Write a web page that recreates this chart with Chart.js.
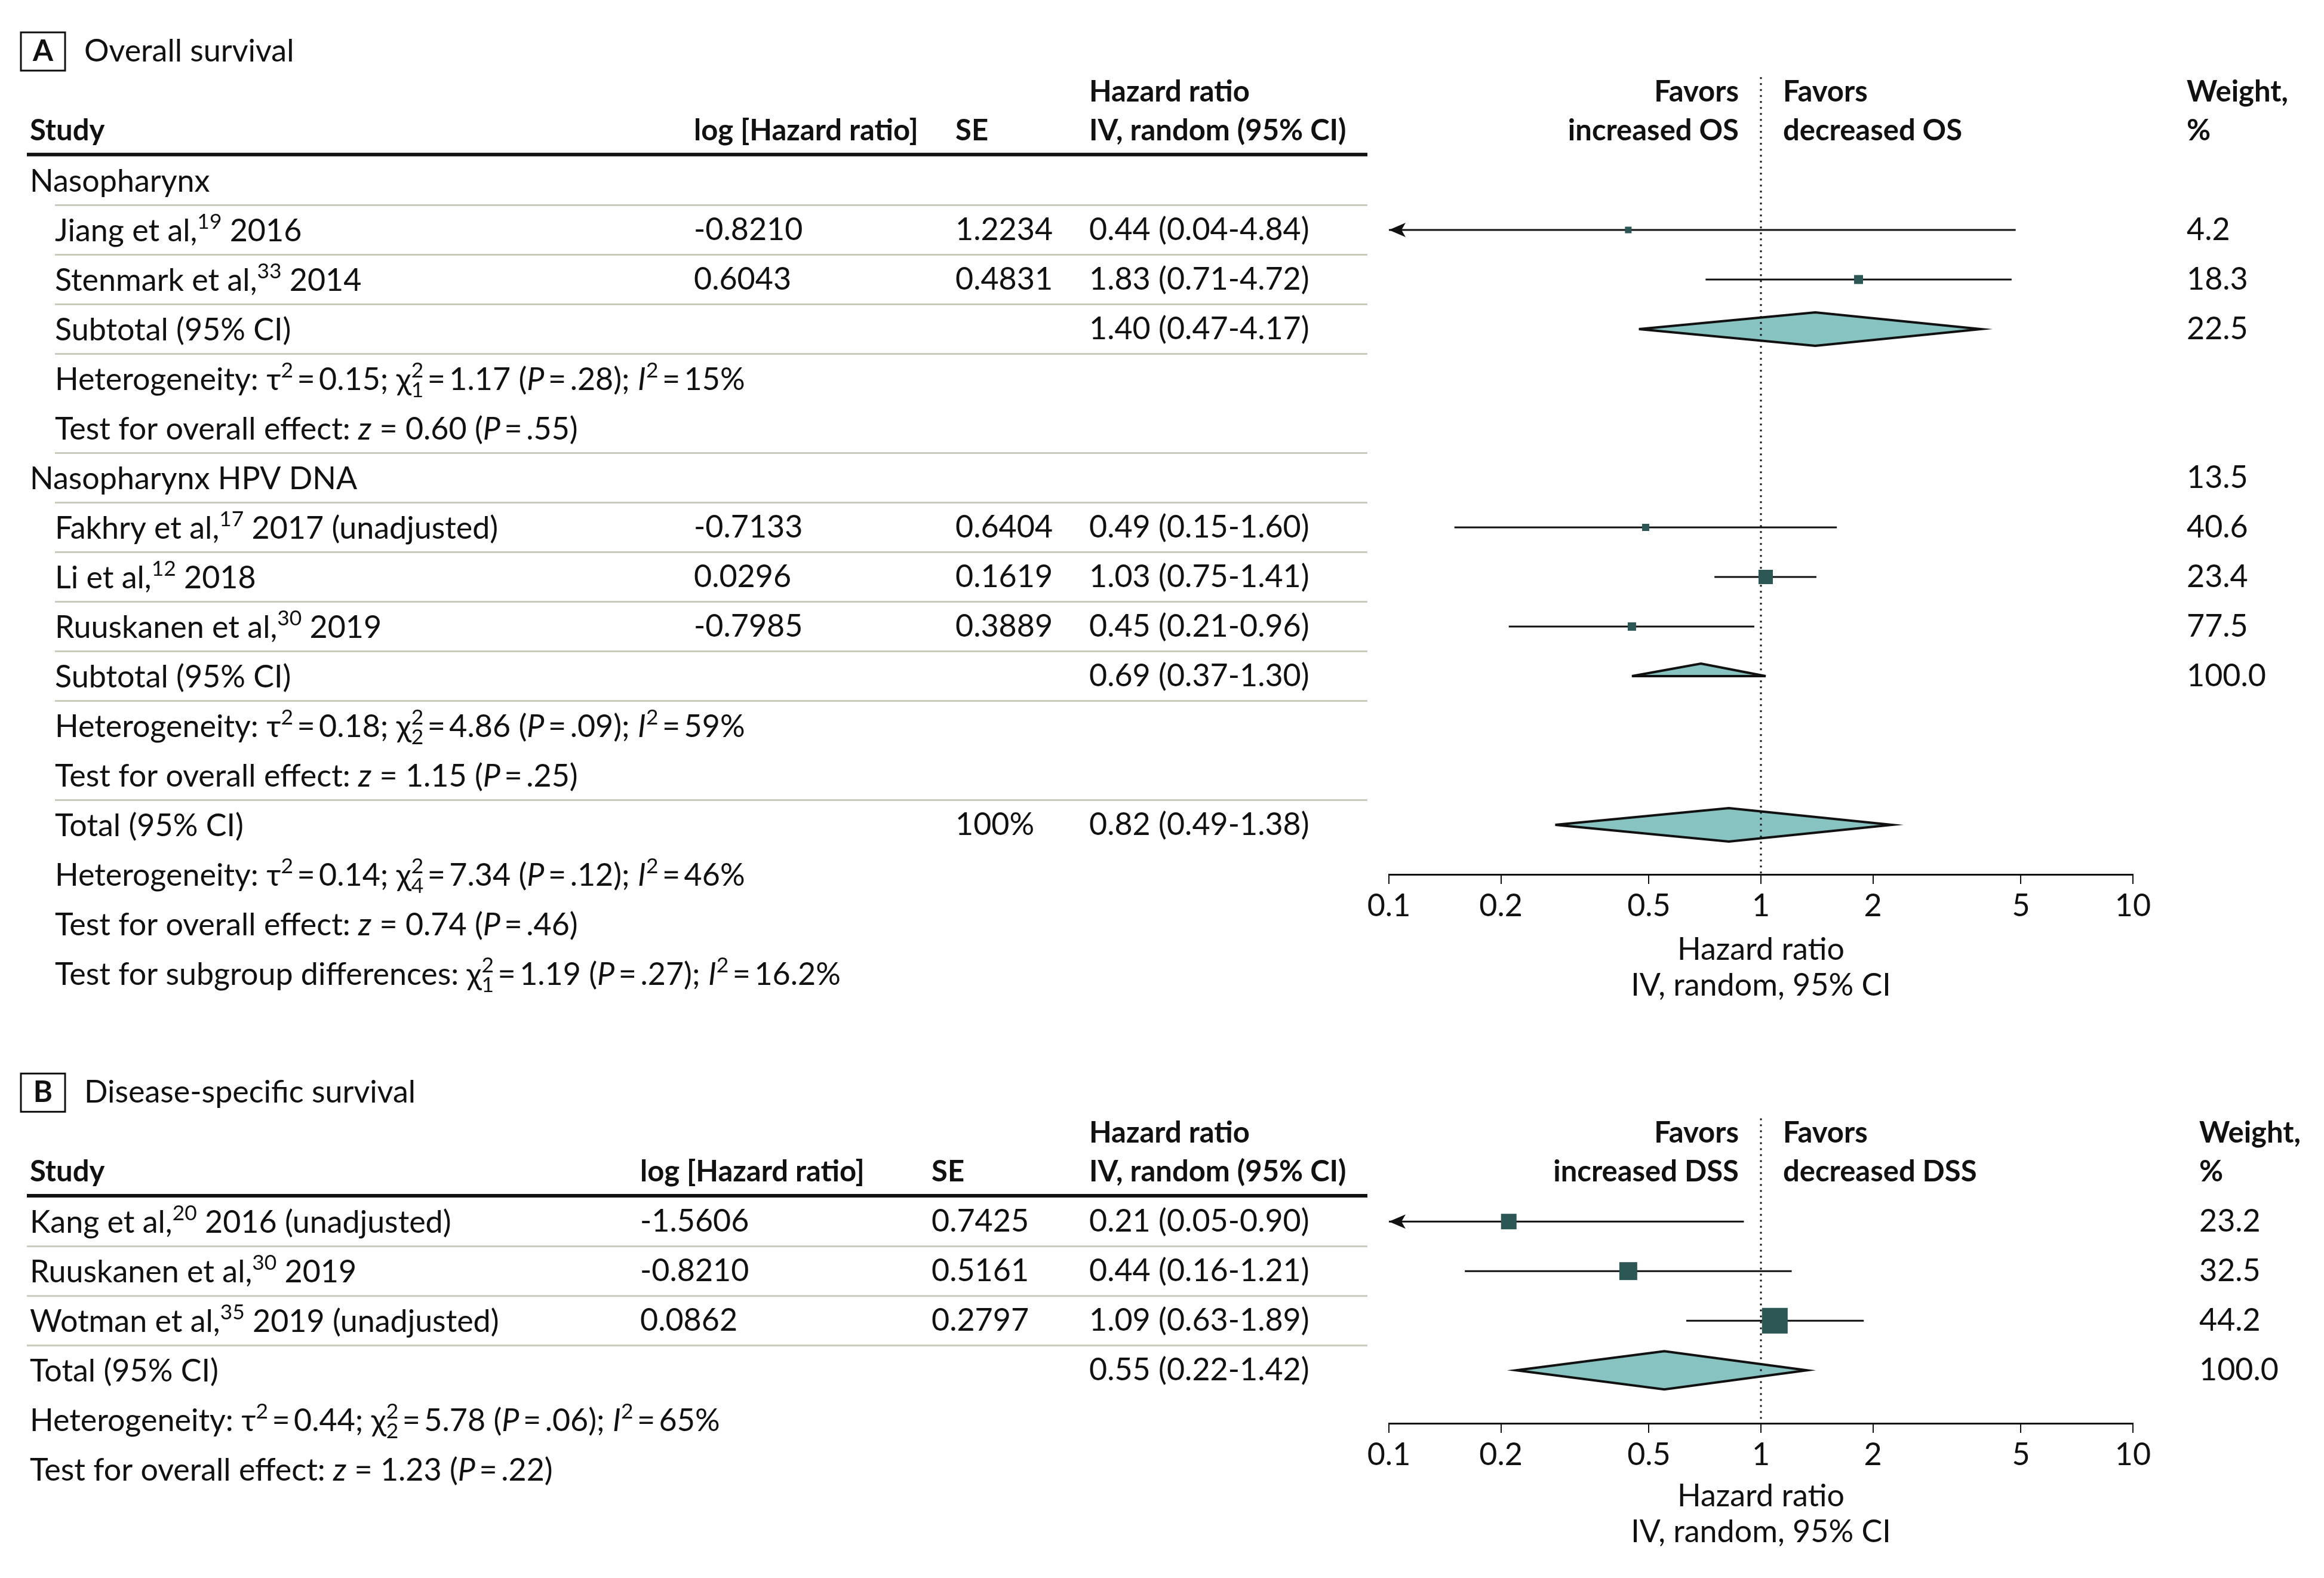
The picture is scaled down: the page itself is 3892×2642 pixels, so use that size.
<!DOCTYPE html>
<html>
<head>
<meta charset="utf-8">
<script src="https://cdn.jsdelivr.net/npm/chart.js@4.4.1/dist/chart.umd.min.js"></script>
<style>
  html, body { margin: 0; padding: 0; background: #fff; }
  canvas { display: block; }
</style>
</head>
<body>
<canvas id="panelA" width="3892" height="1740"></canvas>
<canvas id="panelB" width="3892" height="902"></canvas>
<script>
// tight equals sign used in the statistics lines
const EQ = '\u2009=\u2009';

// ---------- axis ----------
const tickVals = [0.1, 0.2, 0.5, 1, 2, 5, 10];
const tickLabels = ['0.1', '0.2', '0.5', '1', '2', '5', '10'];
const axisTitle = ['Hazard ratio', 'IV, random, 95% CI'];

// ---------- panel A: overall survival ----------
const studyA = [
  'Nasopharynx',
  'Jiang et al,^{19} 2016',
  'Stenmark et al,^{33} 2014',
  'Subtotal (95% CI)',
  `Heterogeneity: τ^{2}${EQ}0.15; χ^{2}_{1}${EQ}1.17 (*P*${EQ}.28); *I*^{2}${EQ}15%`,
  `Test for overall effect: *z* = 0.60 (*P*${EQ}.55)`,
  'Nasopharynx HPV DNA',
  'Fakhry et al,^{17} 2017 (unadjusted)',
  'Li et al,^{12} 2018',
  'Ruuskanen et al,^{30} 2019',
  'Subtotal (95% CI)',
  `Heterogeneity: τ^{2}${EQ}0.18; χ^{2}_{2}${EQ}4.86 (*P*${EQ}.09); *I*^{2}${EQ}59%`,
  `Test for overall effect: *z* = 1.15 (*P*${EQ}.25)`,
  'Total (95% CI)',
  `Heterogeneity: τ^{2}${EQ}0.14; χ^{2}_{4}${EQ}7.34 (*P*${EQ}.12); *I*^{2}${EQ}46%`,
  `Test for overall effect: *z* = 0.74 (*P*${EQ}.46)`,
  `Test for subgroup differences: χ^{2}_{1}${EQ}1.19 (*P*${EQ}.27); *I*^{2}${EQ}16.2%`
];
const kindA = ['group', 'study', 'study', 'sub', 'note', 'note', 'group', 'study', 'study', 'study',
               'half', 'note', 'note', 'total', 'note', 'note', 'note'];
const logHrA = ['', '-0.8210', '0.6043', '', '', '', '', '-0.7133', '0.0296', '-0.7985', '', '', '', '', '', '', ''];
const seA = ['', '1.2234', '0.4831', '', '', '', '', '0.6404', '0.1619', '0.3889', '', '', '', '100%', '', '', ''];
const hrA = [null, 0.44, 1.83, 1.40, null, null, null, 0.49, 1.03, 0.45, 0.69, null, null, 0.82, null, null, null];
const loA = [null, 0.04, 0.71, 0.47, null, null, null, 0.15, 0.75, 0.21, 0.37, null, null, 0.49, null, null, null];
const hiA = [null, 4.84, 4.72, 4.17, null, null, null, 1.60, 1.41, 0.96, 1.30, null, null, 1.38, null, null, null];
// diamonds as drawn in the figure (their ends differ from the printed CI)
const diaLoA = [null, null, null, 0.47, null, null, null, null, null, null, 0.45, null, null, 0.28, null, null, null];
const diaHiA = [null, null, null, 3.9, null, null, null, null, null, null, 1.03, null, null, 2.25, null, null, null];
const weightA = ['', '4.2', '18.3', '22.5', '', '', '13.5', '40.6', '23.4', '77.5', '100.0', '', '', '', '', '', ''];
const favorsA = ['increased OS', 'decreased OS'];

// ---------- panel B: disease-specific survival ----------
const studyB = [
  'Kang et al,^{20} 2016 (unadjusted)',
  'Ruuskanen et al,^{30} 2019',
  'Wotman et al,^{35} 2019 (unadjusted)',
  'Total (95% CI)',
  `Heterogeneity: τ^{2}${EQ}0.44; χ^{2}_{2}${EQ}5.78 (*P*${EQ}.06); *I*^{2}${EQ}65%`,
  `Test for overall effect: *z* = 1.23 (*P*${EQ}.22)`
];
const kindB = ['study', 'study', 'study', 'total', 'note', 'note'];
const logHrB = ['-1.5606', '-0.8210', '0.0862', '', '', ''];
const seB = ['0.7425', '0.5161', '0.2797', '', '', ''];
const hrB = [0.21, 0.44, 1.09, 0.55, null, null];
const loB = [0.05, 0.16, 0.63, 0.22, null, null];
const hiB = [0.90, 1.21, 1.89, 1.42, null, null];
const diaLoB = [null, null, null, 0.22, null, null];
const diaHiB = [null, null, null, 1.33, null, null];
const weightB = ['23.2', '32.5', '44.2', '100.0', '', ''];
const favorsB = ['increased DSS', 'decreased DSS'];

// ---------- style ----------
const FAMILY = "Lato, 'Liberation Sans', sans-serif";
const FS = 52;      // body text
const FSB = 49;     // bold headers
const INK = '#111';
const SEP = '#c7cbbb';
const DIA = '#86c3c1';
const BOXC = '#2c5755';
const ROW = 83;
// square sides in px, as drawn
const boxA = [0, 11, 15, 0, 0, 0, 0, 12, 24, 14, 0, 0, 0, 0, 0, 0, 0];
const boxB = [26, 30, 43, 0, 0, 0];

const PANELS = {
  panelA: {
    letter: 'A', title: 'Overall survival', labels: studyA, kinds: kindA, logHr: logHrA, se: seA,
    hr: hrA, lo: loA, hi: hiA, dLo: diaLoA, dHi: diaHiA, weight: weightA, favors: favorsA, box: boxA,
    cols: { study: 50, indent: 92, logHr: 1162, se: 1600, hr: 1824, favL: 2912, favR: 2986, weight: 3662 },
    seps: [0.5, 1.5, 2.5, 3.5, 5.5, 6.5, 7.5, 8.5, 9.5, 10.5, 12.5], sepX0: 92, lineX1: 2290,
    yMin: -1.1, yMax: 14, axisY: 1464, height: 1740, titlePad: 59, diaHalf: 28, halfTop: 21
  },
  panelB: {
    letter: 'B', title: 'Disease-specific survival', labels: studyB, kinds: kindB, logHr: logHrB, se: seB,
    hr: hrB, lo: loB, hi: hiB, dLo: diaLoB, dHi: diaHiB, weight: weightB, favors: favorsB, box: boxB,
    cols: { study: 50, indent: 50, logHr: 1072, se: 1560, hr: 1824, favL: 2912, favR: 2986, weight: 3683 },
    seps: [0.5, 1.5, 2.5], sepX0: 45, lineX1: 2290,
    yMin: -1.1, yMax: 4.07, axisY: 643, height: 902, titlePad: 46, diaHalf: 32, halfTop: 32
  }
};

// markup: ^{..} superscript, _{..} subscript (stacked under a superscript), *..* italic
function parseRich(s) {
  const segs = [];
  let buf = '', it = false, i = 0;
  const flush = () => { if (buf) segs.push({ t: buf, k: 'n', it }); buf = ''; };
  while (i < s.length) {
    const c = s[i];
    if ((c === '^' || c === '_') && s[i + 1] === '{') {
      flush();
      const j = s.indexOf('}', i);
      segs.push({ t: s.slice(i + 2, j), k: c === '^' ? 'sup' : 'sub', it: false });
      i = j + 1;
    } else if (c === '*') {
      flush(); it = !it; i++;
    } else {
      buf += c; i++;
    }
  }
  flush();
  return segs;
}

function drawRich(ctx, s, x, y, size, weight) {
  const base = y + size * 0.36;
  let cx = x, supStart = null, supEnd = null;
  ctx.textAlign = 'left';
  ctx.textBaseline = 'alphabetic';
  parseRich(s).forEach(seg => {
    const fs = seg.k === 'n' ? size : size * 0.68;
    ctx.font = `${seg.it ? 'italic ' : ''}${weight} ${fs}px ${FAMILY}`;
    const w = ctx.measureText(seg.t).width;
    if (seg.k === 'sup') {
      ctx.fillText(seg.t, cx, base - size * 0.40);
      supStart = cx; supEnd = cx + w; cx += w;
    } else if (seg.k === 'sub') {
      const sx = supStart !== null ? supStart : cx;
      ctx.fillText(seg.t, sx, base + size * 0.24);
      cx = Math.max(supEnd || 0, sx + w);
      supStart = null;
    } else {
      ctx.fillText(seg.t, cx, base);
      cx += w; supStart = null;
    }
  });
}

function text(ctx, s, x, y, weight, align) {
  ctx.font = `${weight} ${weight === 'bold' ? FSB : FS}px ${FAMILY}`;
  ctx.textAlign = align || 'left';
  ctx.textBaseline = 'middle';
  ctx.fillText(s, x, y);
}

const fmt = v => v.toFixed(2);

const forestTable = {
  id: 'forestTable',
  beforeDatasetsDraw(chart) {
    const p = PANELS[chart.canvas.id];
    const { ctx } = chart, xs = chart.scales.x, ys = chart.scales.y;
    ctx.save();
    p.kinds.forEach((k, i) => {
      if (k !== 'sub' && k !== 'total' && k !== 'half') return;
      const y = ys.getPixelForValue(i);
      const xl = xs.getPixelForValue(p.dLo[i]);
      const xc = xs.getPixelForValue(p.hr[i]);
      const xr = xs.getPixelForValue(p.dHi[i]);
      ctx.beginPath();
      ctx.moveTo(xl, y);
      ctx.lineTo(xc, y - (k === 'half' ? p.halfTop : p.diaHalf));
      ctx.lineTo(xr, y);
      if (k !== 'half') ctx.lineTo(xc, y + p.diaHalf);
      ctx.closePath();
      ctx.fillStyle = DIA;
      ctx.fill();
      ctx.lineWidth = 4;
      ctx.strokeStyle = INK;
      ctx.stroke();
    });
    // line of no effect
    const x1 = xs.getPixelForValue(1);
    ctx.beginPath();
    ctx.setLineDash([3, 7]);
    ctx.lineWidth = 3;
    ctx.strokeStyle = INK;
    ctx.moveTo(x1, ys.getPixelForValue(-2.08));
    ctx.lineTo(x1, chart.chartArea.bottom);
    ctx.stroke();
    ctx.restore();
  },
  afterDraw(chart) {
    const p = PANELS[chart.canvas.id];
    const { ctx } = chart, xs = chart.scales.x, ys = chart.scales.y;
    const c = p.cols;
    ctx.save();
    ctx.fillStyle = INK;

    // arrows for intervals running past the axis
    p.kinds.forEach((k, i) => {
      if (k !== 'study' || p.lo[i] >= xs.min) return;
      const y = ys.getPixelForValue(i), tip = xs.left;
      ctx.beginPath();
      ctx.moveTo(tip, y);
      ctx.lineTo(tip + 28, y - 12);
      ctx.lineTo(tip + 21, y);
      ctx.lineTo(tip + 28, y + 12);
      ctx.closePath();
      ctx.fill();
    });

    // panel label
    const ty = ys.getPixelForValue(-2.6);
    ctx.lineWidth = 3;
    ctx.strokeStyle = INK;
    ctx.strokeRect(35, ty - 32, 74, 64);
    text(ctx, p.letter, 72, ty, 'bold', 'center');
    text(ctx, p.title, 141, ty, 'normal');

    // headers
    const h1 = ys.getPixelForValue(-1.78), h2 = ys.getPixelForValue(-1.0);
    text(ctx, 'Study', c.study, h2, 'bold');
    text(ctx, 'log [Hazard ratio]', c.logHr, h2, 'bold');
    text(ctx, 'SE', c.se, h2, 'bold');
    text(ctx, 'Hazard ratio', c.hr, h1, 'bold');
    text(ctx, 'IV, random (95% CI)', c.hr, h2, 'bold');
    text(ctx, 'Favors', c.favL, h1, 'bold', 'right');
    text(ctx, p.favors[0], c.favL, h2, 'bold', 'right');
    text(ctx, 'Favors', c.favR, h1, 'bold');
    text(ctx, p.favors[1], c.favR, h2, 'bold');
    text(ctx, 'Weight,', c.weight, h1, 'bold');
    text(ctx, '%', c.weight, h2, 'bold');

    // rules
    ctx.beginPath();
    ctx.lineWidth = 6;
    const yt = ys.getPixelForValue(-0.52);
    ctx.moveTo(45, yt);
    ctx.lineTo(p.lineX1, yt);
    ctx.stroke();
    ctx.beginPath();
    ctx.lineWidth = 3;
    ctx.strokeStyle = SEP;
    p.seps.forEach(r => {
      const y = ys.getPixelForValue(r);
      ctx.moveTo(p.sepX0, y);
      ctx.lineTo(p.lineX1, y);
    });
    ctx.stroke();

    // rows
    ctx.fillStyle = INK;
    p.labels.forEach((lab, i) => {
      const y = ys.getPixelForValue(i);
      drawRich(ctx, lab, p.kinds[i] === 'group' ? c.study : c.indent, y, FS, 'normal');
      if (p.logHr[i]) text(ctx, p.logHr[i], c.logHr, y, 'normal');
      if (p.se[i]) text(ctx, p.se[i], c.se, y, 'normal');
      if (p.hr[i] !== null) text(ctx, `${fmt(p.hr[i])} (${fmt(p.lo[i])}-${fmt(p.hi[i])})`, c.hr, y, 'normal');
      if (p.weight[i]) text(ctx, p.weight[i], c.weight, y, 'normal');
    });
    ctx.restore();
  }
};

function forestChart(id) {
  const p = PANELS[id];
  const studies = p.kinds.map((k, i) => (k === 'study' ? i : -1)).filter(i => i >= 0);
  const datasets = [{
    data: studies.map(i => ({ x: p.hr[i], y: i })),
    pointStyle: 'rect',
    pointRadius: studies.map(i => p.box[i] / Math.SQRT2),
    backgroundColor: BOXC,
    borderColor: BOXC,
    borderWidth: 0,
    showLine: false,
    clip: 0
  }];
  studies.forEach(i => datasets.push({
    data: [{ x: p.lo[i], y: i }, { x: p.hi[i], y: i }],
    showLine: true,
    borderColor: INK,
    borderWidth: 3,
    pointRadius: 0,
    clip: 0
  }));

  return new Chart(document.getElementById(id), {
    type: 'scatter',
    data: { datasets },
    options: {
      responsive: false,
      animation: false,
      devicePixelRatio: 1,
      events: [],
      layout: {
        padding: { left: 2326, right: 3892 - 3572, top: p.axisY - (p.yMax - p.yMin) * ROW, bottom: 0 }
      },
      plugins: { legend: { display: false }, tooltip: { enabled: false } },
      scales: {
        x: {
          type: 'logarithmic',
          min: 0.1,
          max: 10,
          position: 'bottom',
          afterBuildTicks: s => { s.ticks = tickVals.map(v => ({ value: v })); },
          afterFit: s => { s.height = p.height - p.axisY; },
          grid: { drawOnChartArea: false, drawTicks: true, tickLength: 16, color: INK, lineWidth: 2 },
          border: { display: true, color: INK, width: 3 },
          ticks: {
            autoSkip: false, maxRotation: 0, minRotation: 0, padding: 6, color: INK,
            font: { family: FAMILY, size: FS },
            callback: (v, i) => tickLabels[i]
          },
          title: {
            display: true, text: axisTitle, color: INK,
            font: { family: FAMILY, size: FS, lineHeight: 1.17 },
            padding: { top: 0, bottom: p.titlePad }
          }
        },
        y: { type: 'linear', display: false, reverse: true, min: p.yMin, max: p.yMax }
      }
    },
    plugins: [forestTable]
  });
}

forestChart('panelA');
forestChart('panelB');
</script>
</body>
</html>
